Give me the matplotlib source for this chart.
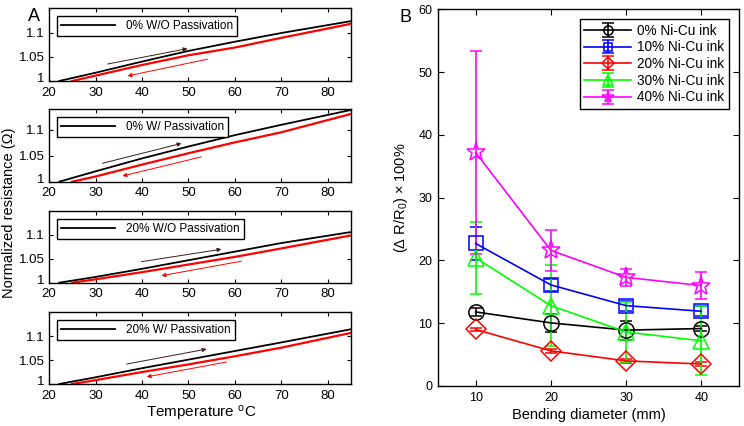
import matplotlib.pyplot as plt
import matplotlib.transforms as mtransforms
import numpy as np

plt.rcParams['font.family'] = ['Liberation Sans', 'DejaVu Sans']
plt.rcParams['mathtext.fontset'] = 'custom'
plt.rcParams['mathtext.rm'] = 'Liberation Sans'
plt.rcParams['mathtext.it'] = 'Liberation Sans'

# ---- panel A data: normalized resistance vs temperature ----
labels_a = ["0% W/O Passivation", "0% W/ Passivation",
            "20% W/O Passivation", "20% W/ Passivation"]
ylims_a = [1.15, 1.14, 1.15, 1.15]

t_heat = [22.2, 30, 40, 50, 60, 70, 85]
t_cool = [25, 30, 40, 50, 60, 70, 85]
r_heat = [
    [1.0, 1.017, 1.040, 1.062, 1.081, 1.099, 1.1235],
    [1.0, 1.020, 1.045, 1.068, 1.090, 1.110, 1.1387],
    [1.0, 1.012, 1.029, 1.047, 1.065, 1.083, 1.106],
    [1.0, 1.014, 1.033, 1.051, 1.069, 1.087, 1.1146],
]
r_cool = [
    [1.0, 1.011, 1.033, 1.053, 1.069, 1.089, 1.118],
    [1.0, 1.010, 1.033, 1.055, 1.076, 1.0955, 1.131],
    [1.0, 1.007, 1.022, 1.038, 1.054, 1.0717, 1.099],
    [1.0, 1.008, 1.025, 1.041, 1.058, 1.076, 1.107],
]
# arrows: (x_start, y_start, x_end, y_end)
arrow_heat = [(32.6, 1.035, 49.8, 1.0667), (31.5, 1.0356, 48.5, 1.074),
              (39.9, 1.044, 57.1, 1.070), (36.7, 1.0417, 53.9, 1.073)]
arrow_cool = [(54.1, 1.045, 36.9, 1.0104), (52.8, 1.048, 35.8, 1.011),
              (61.4, 1.045, 44.2, 1.0146), (58.2, 1.046, 41.0, 1.015)]

# ---- panel B data: resistance change vs bending diameter ----
diam = [10, 20, 30, 40]
inks = ["0% Ni-Cu ink", "10% Ni-Cu ink", "20% Ni-Cu ink",
        "30% Ni-Cu ink", "40% Ni-Cu ink"]
dr = [
    [11.8, 10.05, 8.9, 9.15],
    [22.7, 16.1, 12.8, 11.9],
    [9.0, 5.6, 4.0, 3.5],
    [20.4, 12.8, 8.6, 7.2],
    [37.2, 21.6, 17.3, 16.0],
]
dr_err = [
    [0.6, 1.4, 1.5, 0.4],
    [2.6, 1.0, 0.8, 0.8],
    [0.3, 0.3, 0.3, 0.3],
    [5.8, 6.5, 4.8, 5.5],
    [16.2, 3.3, 1.3, 2.2],
]
colors_b = ['black', '#0000ff', '#ff0000', '#00ff00', '#ff00ff']
markers_b = ['o', 's', 'D', '^', '*']
msizes_b = [11, 10, 10, 11, 14]

fig = plt.figure(figsize=(7.44, 4.26), dpi=100)

pos_a = [(0.0659, 0.8099, 0.406, 0.1707),
         (0.0659, 0.5735, 0.406, 0.1700),
         (0.0659, 0.3364, 0.406, 0.1683),
         (0.0659, 0.0986, 0.406, 0.1683)]

for i in range(4):
    ax = fig.add_axes(pos_a[i])
    ax.plot(t_heat, r_heat[i], color='black', lw=1.3, label=labels_a[i])
    ax.plot(t_cool, r_cool[i], color='#ff0000', lw=1.6)
    xs, ys, xe, ye = arrow_heat[i]
    ax.annotate('', xy=(xe, ye), xytext=(xs, ys),
                arrowprops=dict(arrowstyle='-|>', color='#3a1c1c', lw=0.7,
                                mutation_scale=6, shrinkA=0, shrinkB=0))
    xs, ys, xe, ye = arrow_cool[i]
    ax.annotate('', xy=(xe, ye), xytext=(xs, ys),
                arrowprops=dict(arrowstyle='-|>', color='#ff0000', lw=0.7,
                                mutation_scale=6, shrinkA=0, shrinkB=0))
    ax.set_xlim(20, 85)
    ax.set_ylim(1, ylims_a[i])
    ax.set_xticks([20, 30, 40, 50, 60, 70, 80])
    ax.set_yticks([1, 1.05, 1.1])
    ax.set_yticklabels(['1', '1.05', '1.1'])
    ax.tick_params(axis='both', direction='in', top=True, right=True,
                   labelsize=9.5, length=3, width=0.8)
    ax.tick_params(axis='x', pad=4)
    ax.tick_params(axis='y', pad=3)
    # lift the bottom "1" a little so it clears the "20" below it
    lab1 = ax.get_yticklabels()[0]
    lab1.set_transform(lab1.get_transform() + mtransforms.ScaledTranslation(
        0, 2.5 / 72, fig.dpi_scale_trans))
    for s in ax.spines.values():
        s.set_linewidth(1.0)
    leg = ax.legend(loc='upper left', fontsize=8.5, fancybox=False,
                    edgecolor='black', framealpha=1, handlelength=4.6,
                    borderpad=0.35, borderaxespad=0.65, handletextpad=0.9)
    leg.get_frame().set_linewidth(1.0)

fig.text(0.012, 0.5, 'Normalized resistance (\u03a9)', rotation=90,
         va='center', ha='center', fontsize=10.5)
fig.text(0.27, 0.029, 'Temperature $^{\\mathrm{o}}$C', ha='center',
         va='center', fontsize=11)
fig.text(0.046, 0.962, 'A', fontsize=13, ha='center', va='center')
fig.text(0.545, 0.958, 'B', fontsize=13, ha='center', va='center')

axb = fig.add_axes((0.5887, 0.0939, 0.4046, 0.8843))
for k in range(5):
    axb.errorbar(diam, dr[k], yerr=dr_err[k], color=colors_b[k],
                 marker=markers_b[k], markersize=msizes_b[k],
                 markerfacecolor='none', markeredgecolor=colors_b[k],
                 markeredgewidth=1.1, lw=1.2, capsize=4, elinewidth=1.2,
                 capthick=1.2, label=inks[k])
axb.set_xlim(5, 45)
axb.set_ylim(0, 60)
axb.set_xticks(diam)
axb.set_yticks(np.arange(0, 61, 10))
axb.tick_params(direction='in', top=True, right=True, labelsize=9,
                length=4, width=0.8, pad=4)
for s in axb.spines.values():
    s.set_linewidth(1.0)
axb.set_xlabel('Bending diameter (mm)', fontsize=10.5, labelpad=3)
axb.set_ylabel('($\\Delta$ R/R$_0$) $\\times$ 100%', fontsize=10.5,
               labelpad=6)
legb = axb.legend(loc='upper right', fontsize=9.8, fancybox=False,
                  edgecolor='black', framealpha=1, handlelength=3.4,
                  borderpad=0.3, labelspacing=0.2, borderaxespad=0.75,
                  handletextpad=0.5, markerscale=0.6)
legb.get_frame().set_linewidth(1.0)

fig.savefig('out.png', dpi=100)
